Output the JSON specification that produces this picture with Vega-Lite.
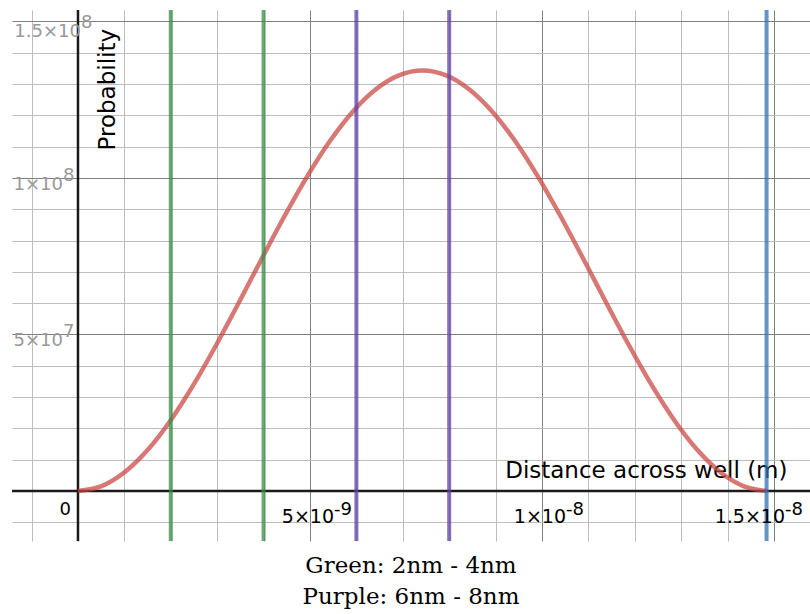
{
  "$schema": "https://vega.github.io/schema/vega-lite/v6.json",
  "width": 798,
  "height": 531,
  "autosize": "none",
  "padding": {"left": 12, "top": 10, "right": 0, "bottom": 73},
  "background": "white",
  "config": {"view": {"stroke": null}},
  "title": {
    "text": ["Green: 2nm - 4nm", "Purple: 6nm - 8nm"],
    "orient": "bottom",
    "anchor": "middle",
    "font": "DejaVu Serif",
    "fontSize": 23,
    "fontWeight": "normal",
    "color": "#000000",
    "lineHeight": 31,
    "offset": 12,
    "baseline": "top"
  },
  "resolve": {"axis": {"x": "independent", "y": "independent"}},
  "datasets": {
    "curve": [
      {"x": 0, "p": 0},
      {"x": 4.95e-10, "p": 1467000},
      {"x": 9.9e-10, "p": 5805000},
      {"x": 1.485e-9, "p": 12824000},
      {"x": 1.98e-9, "p": 22218000},
      {"x": 2.475e-9, "p": 33575000},
      {"x": 2.97e-9, "p": 46400000},
      {"x": 3.465e-9, "p": 60131000},
      {"x": 3.96e-9, "p": 74169000},
      {"x": 4.455e-9, "p": 87900000},
      {"x": 4.95e-9, "p": 100725000},
      {"x": 5.445e-9, "p": 112082000},
      {"x": 5.94e-9, "p": 121475000},
      {"x": 6.435e-9, "p": 128495000},
      {"x": 6.93e-9, "p": 132833000},
      {"x": 7.425e-9, "p": 134300000},
      {"x": 7.92e-9, "p": 132833000},
      {"x": 8.415e-9, "p": 128495000},
      {"x": 8.91e-9, "p": 121475000},
      {"x": 9.405e-9, "p": 112082000},
      {"x": 9.9e-9, "p": 100725000},
      {"x": 1.0395e-8, "p": 87900000},
      {"x": 1.089e-8, "p": 74169000},
      {"x": 1.1385e-8, "p": 60131000},
      {"x": 1.188e-8, "p": 46400000},
      {"x": 1.2375e-8, "p": 33575000},
      {"x": 1.287e-8, "p": 22218000},
      {"x": 1.3365e-8, "p": 12824000},
      {"x": 1.386e-8, "p": 5805000},
      {"x": 1.4355e-8, "p": 1467000},
      {"x": 1.485e-8, "p": 0}
    ],
    "marks": [
      {"x": 2e-9, "g": "green"},
      {"x": 4e-9, "g": "green"},
      {"x": 6e-9, "g": "purple"},
      {"x": 8e-9, "g": "purple"},
      {"x": 1.484e-8, "g": "blue"}
    ],
    "xlabels": [
      {"v": 5e-9, "base": "5×10", "sup": "-9"},
      {"v": 1e-8, "base": "1×10", "sup": "-8"},
      {"v": 1.5e-8, "base": "1.5×10", "sup": "-8"}
    ],
    "ylabels": [
      {"v": 5e7, "base": "5×10", "sup": "7"},
      {"v": 1e8, "base": "1×10", "sup": "8"},
      {"v": 1.5e8, "base": "1.5×10", "sup": "8"}
    ],
    "origin": [{"v": 0, "t": "0"}]
  },
  "layer": [
    {
      "data": {"name": "origin"},
      "mark": {"type": "point", "opacity": 0, "size": 0},
      "encoding": {
        "x": {
          "field": "v", "type": "quantitative",
          "scale": {"domain": [-1.422e-9, 1.5776e-8], "nice": false, "zero": false},
          "axis": {
            "orient": "bottom",
            "values": [-1e-9, 1e-9, 2e-9, 3e-9, 4e-9, 6e-9, 7e-9, 8e-9, 9e-9, 1.1e-8, 1.2e-8, 1.3e-8, 1.4e-8],
            "grid": true, "gridColor": "#bdbdbd", "gridWidth": 1,
            "labels": false, "ticks": false, "domain": false, "title": null
          }
        },
        "y": {
          "field": "v", "type": "quantitative",
          "scale": {"domain": [-15969000, 153620000], "nice": false, "zero": false},
          "axis": {
            "orient": "left",
            "values": [-1e7, 1e7, 2e7, 3e7, 4e7, 6e7, 7e7, 8e7, 9e7, 1.1e8, 1.2e8, 1.3e8, 1.4e8],
            "grid": true, "gridColor": "#bdbdbd", "gridWidth": 1,
            "labels": false, "ticks": false, "domain": false, "title": null
          }
        }
      }
    },
    {
      "data": {"name": "origin"},
      "mark": {"type": "point", "opacity": 0, "size": 0},
      "encoding": {
        "x": {
          "field": "v", "type": "quantitative",
          "axis": {
            "orient": "bottom",
            "values": [0, 5e-9, 1e-8, 1.5e-8],
            "grid": true, "gridColor": "#7f7f7f", "gridWidth": 1,
            "labels": false, "ticks": false, "domain": false,
            "title": "Distance across well (m)",
            "titleFont": "DejaVu Sans", "titleFontSize": 23, "titleFontWeight": "normal", "titleColor": "#000000",
            "titleAlign": "right", "titleBaseline": "alphabetic", "titleX": 775, "titleY": -64
          }
        },
        "y": {
          "field": "v", "type": "quantitative",
          "axis": {
            "orient": "left",
            "values": [0, 5e7, 1e8, 1.5e8],
            "grid": true, "gridColor": "#7f7f7f", "gridWidth": 1,
            "labels": false, "ticks": false, "domain": false,
            "title": "Probability",
            "titleFont": "DejaVu Sans", "titleFontSize": 23, "titleFontWeight": "normal", "titleColor": "#000000",
            "titleAngle": -90, "titleAlign": "left", "titleBaseline": "alphabetic", "titleX": 102, "titleY": 140
          }
        }
      }
    },
    {
      "data": {"name": "origin"},
      "mark": {"type": "rule", "color": "#1a1a1a", "strokeWidth": 2.5},
      "encoding": {"y": {"field": "v", "type": "quantitative", "axis": null}}
    },
    {
      "data": {"name": "origin"},
      "mark": {"type": "rule", "color": "#1a1a1a", "strokeWidth": 2.5},
      "encoding": {"x": {"field": "v", "type": "quantitative", "axis": null}}
    },
    {
      "data": {"name": "curve"},
      "mark": {"type": "line", "color": "#c74440", "opacity": 0.72, "strokeWidth": 4.5, "interpolate": "monotone", "clip": true},
      "encoding": {
        "x": {"field": "x", "type": "quantitative", "axis": null},
        "y": {"field": "p", "type": "quantitative", "axis": null}
      }
    },
    {
      "data": {"name": "marks"},
      "mark": {"type": "rule", "strokeWidth": 4, "opacity": 0.75},
      "encoding": {
        "x": {"field": "x", "type": "quantitative", "axis": null},
        "color": {"field": "g", "type": "nominal", "legend": null,
          "scale": {"domain": ["green", "purple", "blue"], "range": ["#388c46", "#6042a6", "#2d70b3"]}}
      }
    },
    {
      "data": {"name": "xlabels"},
      "transform": [{"filter": "datum.v < 1.4e-8"}],
      "mark": {"type": "text", "align": "right", "baseline": "alphabetic", "dx": 24, "dy": 32, "font": "DejaVu Sans", "fontSize": 19, "color": "#000000"},
      "encoding": {
        "x": {"field": "v", "type": "quantitative", "axis": null},
        "y": {"datum": 0, "type": "quantitative", "axis": null},
        "text": {"field": "base"}
      }
    },
    {
      "data": {"name": "xlabels"},
      "transform": [{"filter": "datum.v < 1.4e-8"}],
      "mark": {"type": "text", "align": "left", "baseline": "alphabetic", "dx": 24, "dy": 24, "font": "DejaVu Sans", "fontSize": 18, "color": "#000000"},
      "encoding": {
        "x": {"field": "v", "type": "quantitative", "axis": null},
        "y": {"datum": 0, "type": "quantitative", "axis": null},
        "text": {"field": "sup"}
      }
    },
    {
      "data": {"name": "xlabels"},
      "transform": [{"filter": "datum.v > 1.4e-8"}],
      "mark": {"type": "text", "align": "right", "baseline": "alphabetic", "dx": 11, "dy": 32, "font": "DejaVu Sans", "fontSize": 19, "color": "#000000"},
      "encoding": {
        "x": {"field": "v", "type": "quantitative", "axis": null},
        "y": {"datum": 0, "type": "quantitative", "axis": null},
        "text": {"field": "base"}
      }
    },
    {
      "data": {"name": "xlabels"},
      "transform": [{"filter": "datum.v > 1.4e-8"}],
      "mark": {"type": "text", "align": "left", "baseline": "alphabetic", "dx": 11, "dy": 24, "font": "DejaVu Sans", "fontSize": 18, "color": "#000000"},
      "encoding": {
        "x": {"field": "v", "type": "quantitative", "axis": null},
        "y": {"datum": 0, "type": "quantitative", "axis": null},
        "text": {"field": "sup"}
      }
    },
    {
      "data": {"name": "ylabels"},
      "transform": [{"filter": "datum.v < 1.4e8"}],
      "mark": {"type": "text", "align": "right", "baseline": "alphabetic", "dx": -15, "dy": 12, "font": "DejaVu Sans", "fontSize": 18, "color": "#999999"},
      "encoding": {
        "x": {"datum": 0, "type": "quantitative", "axis": null},
        "y": {"field": "v", "type": "quantitative", "axis": null},
        "text": {"field": "base"}
      }
    },
    {
      "data": {"name": "ylabels"},
      "transform": [{"filter": "datum.v < 1.4e8"}],
      "mark": {"type": "text", "align": "left", "baseline": "alphabetic", "dx": -15, "dy": 3, "font": "DejaVu Sans", "fontSize": 18, "color": "#999999"},
      "encoding": {
        "x": {"datum": 0, "type": "quantitative", "axis": null},
        "y": {"field": "v", "type": "quantitative", "axis": null},
        "text": {"field": "sup"}
      }
    },
    {
      "data": {"name": "ylabels"},
      "transform": [{"filter": "datum.v > 1.4e8"}],
      "mark": {"type": "text", "align": "right", "baseline": "alphabetic", "dx": 3, "dy": 16, "font": "DejaVu Sans", "fontSize": 18, "color": "#999999"},
      "encoding": {
        "x": {"datum": 0, "type": "quantitative", "axis": null},
        "y": {"field": "v", "type": "quantitative", "axis": null},
        "text": {"field": "base"}
      }
    },
    {
      "data": {"name": "ylabels"},
      "transform": [{"filter": "datum.v > 1.4e8"}],
      "mark": {"type": "text", "align": "left", "baseline": "alphabetic", "dx": 3, "dy": 7, "font": "DejaVu Sans", "fontSize": 18, "color": "#999999"},
      "encoding": {
        "x": {"datum": 0, "type": "quantitative", "axis": null},
        "y": {"field": "v", "type": "quantitative", "axis": null},
        "text": {"field": "sup"}
      }
    },
    {
      "data": {"name": "origin"},
      "mark": {"type": "text", "align": "right", "baseline": "alphabetic", "dx": -7, "dy": 24, "font": "DejaVu Sans", "fontSize": 18, "color": "#000000"},
      "encoding": {
        "x": {"field": "v", "type": "quantitative", "axis": null},
        "y": {"field": "v", "type": "quantitative", "axis": null},
        "text": {"field": "t"}
      }
    }
  ]
}
